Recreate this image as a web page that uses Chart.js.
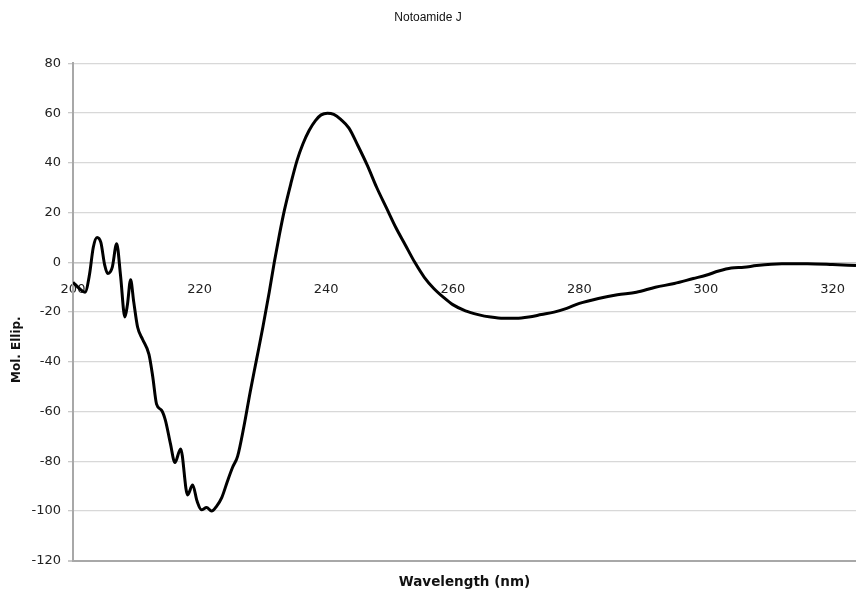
<!DOCTYPE html>
<html>
<head>
<meta charset="utf-8">
<title>Notoamide J</title>
<script src="https://cdn.jsdelivr.net/npm/chart.js@4.4.1/dist/chart.umd.min.js"></script>
<style>
  html, body { margin: 0; padding: 0; background: #fff; }
  #wrap { width: 856px; height: 592px; position: relative; }
</style>
</head>
<body>
<div id="wrap"><canvas id="wykrescd"></canvas></div>
<script>
// dlugosc fali [nm] i elipsywnosc molowa
var dlugoscFali = [200, 201, 201.9, 202.6, 203.2, 203.8, 204.4, 205, 205.5, 206.2, 206.9, 207.5, 208.2, 208.6,
  209.1, 209.6, 210.2, 211, 212, 212.6, 213.2, 214, 214.6, 215.4, 216.1, 217, 218.1, 218.9, 219.6, 220.3,
  221.1, 221.9, 222.7, 223.5, 224.4, 225.2, 226, 227, 228, 229, 230, 231, 231.8, 232.6, 233.4, 234.4, 235.4,
  236.3, 237.3, 238.3, 239.2, 240.2, 241.2, 242.3, 243.6, 245, 246.5, 248, 249.5, 251, 252.5, 254, 255.5,
  257, 258.5, 260, 262, 264, 266, 268, 270, 272, 274, 276, 278, 280, 283, 286, 289, 292, 295, 298, 300,
  302, 304, 306, 308, 312, 316, 320, 323.7];
var elipsywnosc = [-8, -10.5, -12, -5, 6, 10, 8, -1, -4.5, -2, 7.5, -5, -22, -17,
  -7, -16, -26, -31, -37, -46, -57, -59.5, -63.5, -73, -80.5, -75, -93.5, -89.5, -96, -99.5,
  -98.6, -100, -98, -94.6, -88, -82.5, -78, -66, -52, -39, -26, -12, 0, 11, 21, 31.5, 41,
  47.5, 53, 57, 59.3, 60, 59.5, 57.5, 54, 47, 39, 30, 22, 14, 7, 0, -6,
  -10.5, -14, -17, -19.5, -21, -22, -22.5, -22.5, -22, -21, -20, -18.5, -16.5, -14.5, -13, -12, -10, -8.5, -6.5, -5.2,
  -3.5, -2.3, -2, -1.3, -0.6, -0.6, -0.9, -1.3];
var tickiX = [200, 220, 240, 260, 280, 300, 320];
var zakresX = [200, 323.7];
var zakresY = [-120, 80];

var punkty = [];
for (var i in dlugoscFali) {
  punkty.push({ x: dlugoscFali[i], y: elipsywnosc[i] });
}

var ctx = document.getElementById('wykrescd');

window.wykres = new Chart(ctx, {
  type: 'line',
  data: {
    datasets: [{
      label: 'Notoamide J',
      data: punkty,
      borderColor: '#000',
      borderWidth: 3,
      pointRadius: 0,
      fill: false,
      cubicInterpolationMode: 'monotone'
    }]
  },
  options: {
    responsive: true,
    maintainAspectRatio: false,
    animation: false,
    layout: { padding: 0 },
    plugins: {
      legend: { display: false },
      tooltip: { enabled: false },
      title: {
        display: true,
        text: 'Notoamide J',
        color: '#111',
        font: { family: "'Liberation Sans', sans-serif", size: 12, weight: 'normal' },
        padding: { top: 10, bottom: 39 }
      }
    },
    scales: {
      x: {
        type: 'linear',
        position: { y: 0 },
        min: zakresX[0],
        max: zakresX[1],
        afterBuildTicks: function (scale) {
          scale.ticks = tickiX.map(function (v) { return { value: v }; });
        },
        afterFit: function (scale) {
          scale.paddingLeft = 0;
          scale.paddingRight = 0;
        },
        grid: { display: false },
        border: { display: true, color: '#c4c4c4', width: 1.5 },
        ticks: {
          padding: 11,
          maxRotation: 0,
          color: '#222',
          font: { family: "'DejaVu Sans', sans-serif", size: 13 }
        }
      },
      xTytul: {
        type: 'linear',
        position: 'bottom',
        min: zakresX[0],
        max: zakresX[1],
        grid: { display: false },
        border: { display: false },
        ticks: { display: false },
        title: {
          display: true,
          text: 'Wavelength (nm)',
          color: '#111',
          font: { family: "'DejaVu Sans', sans-serif", size: 13.5, weight: 'bold' },
          padding: { top: 6, bottom: 1 }
        }
      },
      y: {
        min: zakresY[0],
        max: zakresY[1],
        afterFit: function (scale) {
          scale.width = 73;
          scale.paddingBottom = 0;
        },
        ticks: {
          stepSize: 20,
          padding: 7,
          color: '#222',
          font: { family: "'DejaVu Sans', sans-serif", size: 13 }
        },
        grid: {
          color: function (c) { return c.tick && c.tick.value === -120 ? '#a8a8a8' : '#d8d8d8'; },
          lineWidth: function (c) { return c.tick && c.tick.value === -120 ? 2 : 1.3; },
          tickLength: 5,
          tickColor: '#c8c8c8'
        },
        border: { display: true, color: '#a8a8a8', width: 2 },
        title: {
          display: true,
          // odstepy na koncu przesuwaja napis w dol, jak w oryginale
          text: 'Mol. Ellip.' + '\u00a0'.repeat(18),
          color: '#111',
          font: { family: "'DejaVu Sans', sans-serif", size: 12, weight: 'bold' },
          padding: { top: 10, bottom: 0 }
        }
      }
    }
  }
});
</script>
</body>
</html>
